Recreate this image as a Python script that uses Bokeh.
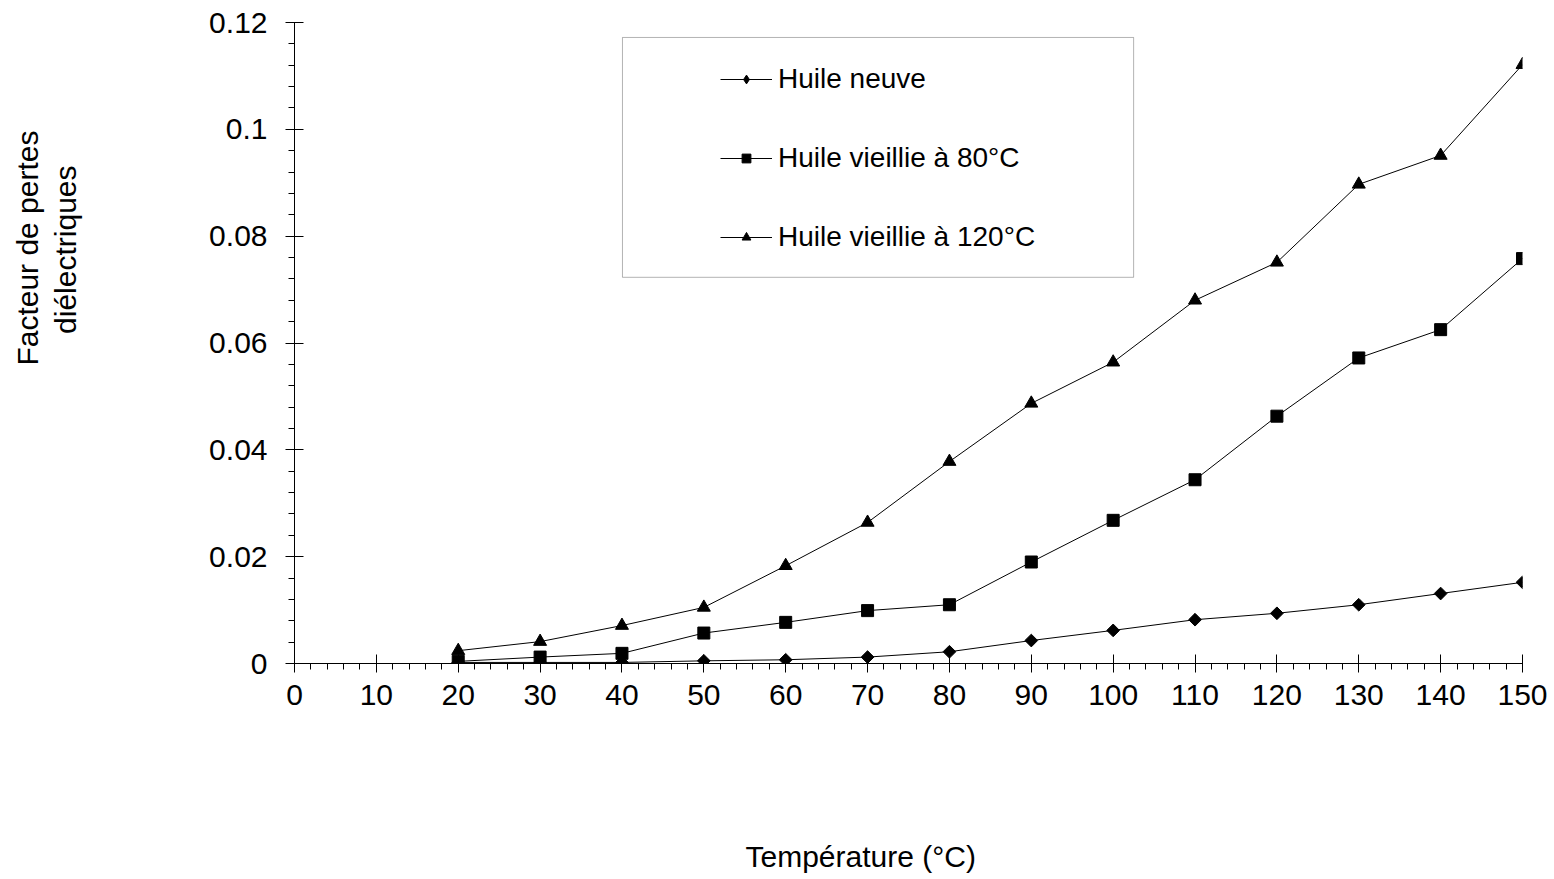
import math
from bokeh.plotting import figure
from bokeh.models import (Range1d, FixedTicker, Legend, LegendItem, BoxAnnotation, Title,
                          LinearAxis)
from bokeh.embed import file_html
from bokeh.resources import INLINE

# ---- data ----
temperatures = [20, 30, 40, 50, 60, 70, 80, 90, 100, 110, 120, 130, 140, 150]
huile_neuve = [0.0002, 0.0002, 0.0002, 0.0005, 0.0007, 0.0012, 0.0022, 0.0043, 0.0062,
               0.0082, 0.0094, 0.0110, 0.0131, 0.0152]
huile_vieillie_80 = [0.0004, 0.0012, 0.0019, 0.0057, 0.0077, 0.0099, 0.0110, 0.0190, 0.0268,
                     0.0344, 0.0463, 0.0572, 0.0625, 0.0758]
huile_vieillie_120 = [0.0024, 0.0041, 0.0071, 0.0105, 0.0183, 0.0264, 0.0378, 0.0487, 0.0564,
                      0.0680, 0.0751, 0.0897, 0.0951, 0.1121]
series_labels = ["Huile neuve", "Huile vieillie à 80°C", "Huile vieillie à 120°C"]
x_ticks = list(range(0, 151, 10))
x_minor = list(range(0, 151, 2))
y_ticks = [0, 0.02, 0.04, 0.06, 0.08, 0.1, 0.12]
y_tick_labels = ["0", "0.02", "0.04", "0.06", "0.08", "0.1", "0.12"]
y_minor = [i * 0.004 for i in range(0, 31)]
x_title = "Température (°C)"
y_title_lines = ["Facteur de pertes", "diélectriques"]

FONT = "Liberation Sans"

p = figure(width=1554, height=879, output_backend="svg", toolbar_location=None,
           x_range=Range1d(0, 150), y_range=Range1d(0, 0.12),
           min_border_left=294, min_border_right=32, min_border_top=22, min_border_bottom=216)
p.outline_line_color = None
p.xgrid.grid_line_color = None
p.ygrid.grid_line_color = None
p.background_fill_color = "white"

for ax in (p.xaxis[0], p.yaxis[0]):
    ax.axis_line_color = "black"
    ax.axis_line_width = 1
    ax.major_tick_line_color = "black"
    ax.minor_tick_line_color = "black"
    ax.major_tick_in = 9
    ax.major_tick_out = 9
    ax.minor_tick_in = 0
    ax.minor_tick_out = 6
    ax.major_label_text_font = FONT
    ax.major_label_text_font_size = "30px"
    ax.major_label_text_color = "black"

p.xaxis[0].ticker = FixedTicker(ticks=x_ticks, minor_ticks=x_minor)
p.yaxis[0].ticker = FixedTicker(ticks=y_ticks, minor_ticks=y_minor)
p.yaxis[0].major_label_overrides = {t: l for t, l in zip(y_ticks, y_tick_labels)}
p.xaxis[0].major_label_standoff = 12
p.yaxis[0].major_label_standoff = 18

# ---- series ----
l1 = p.line(temperatures, huile_neuve, line_color="black", line_width=1)
# diamond key used by the legend (hidden beneath the rotated-square markers)
k1 = p.scatter(temperatures, huile_neuve, marker="diamond", size=10,
               fill_color="black", line_color="black")
p.scatter(temperatures, huile_neuve, marker="square", angle=math.pi / 4, size=9,
          fill_color="black", line_color="black")
l2 = p.line(temperatures, huile_vieillie_80, line_color="black", line_width=1)
m2 = p.scatter(temperatures, huile_vieillie_80, marker="square", size=12,
               fill_color="black", line_color="black")
l3 = p.line(temperatures, huile_vieillie_120, line_color="black", line_width=1)
m3 = p.scatter(temperatures, huile_vieillie_120, marker="triangle", size=13,
               fill_color="black", line_color="black")

# ---- legend frame ----
p.add_layout(BoxAnnotation(left=40.06, right=102.5, bottom=0.0723, top=0.1172,
                           fill_color="white", fill_alpha=1.0,
                           line_color="black", line_width=1, level="underlay"))

legend = Legend(items=[LegendItem(label=series_labels[0], renderers=[l1, k1]),
                       LegendItem(label=series_labels[1], renderers=[l2, m2]),
                       LegendItem(label=series_labels[2], renderers=[l3, m3])],
                location=(426, 406), orientation="vertical",
                glyph_width=52, glyph_height=22, label_height=40,
                label_standoff=6, spacing=39, padding=0, margin=0,
                border_line_color=None, background_fill_alpha=0,
                label_text_font=FONT, label_text_font_size="28px",
                label_text_color="black")
p.add_layout(legend, "center")


def spacer(size):
    # blank axis (white tick, empty label, no line) that only reserves space in a side panel
    return LinearAxis(ticker=FixedTicker(ticks=[0], minor_ticks=[]), axis_line_color=None,
                      major_tick_in=0, major_tick_out=size, minor_tick_in=0, minor_tick_out=0,
                      major_tick_line_color="white", minor_tick_line_color="white",
                      major_label_standoff=0, major_label_overrides={0: ""},
                      major_label_text_font_size="1px")


# ---- axis titles ----
p.add_layout(spacer(132), "below")
p.add_layout(Title(text=x_title, align="left", offset=451, vertical_align="top", standoff=0,
                   text_font=FONT, text_font_size="30px", text_font_style="normal",
                   text_color="black"), "below")

p.add_layout(spacer(124), "left")
p.add_layout(Title(text=y_title_lines[1], align="right", offset=143, vertical_align="middle",
                   standoff=0, text_font=FONT, text_font_size="30px",
                   text_font_style="normal", text_color="black"), "left")
p.add_layout(Title(text=y_title_lines[0], align="right", offset=108, vertical_align="middle",
                   standoff=6, text_font=FONT, text_font_size="30px",
                   text_font_style="normal", text_color="black"), "left")

open("out.html", "w").write(file_html(p, INLINE))
